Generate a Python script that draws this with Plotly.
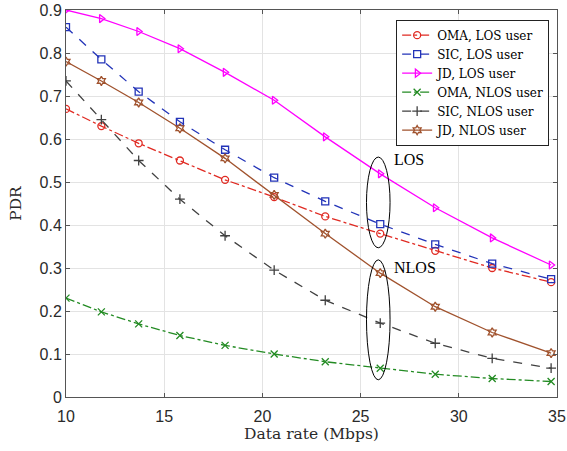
import plotly.graph_objects as go

# Data rate (Mbps) and packet delivery ratio per scheme
rate = [10, 11.8, 13.7, 15.8, 18.1, 20.6, 23.2, 26.0, 28.8, 31.7, 34.7]

oma_los = [0.67, 0.63, 0.59, 0.55, 0.505, 0.465, 0.42, 0.38, 0.34, 0.30, 0.267]
sic_los = [0.86, 0.785, 0.71, 0.64, 0.575, 0.51, 0.455, 0.402, 0.355, 0.31, 0.274]
jd_los = [0.90, 0.88, 0.85, 0.81, 0.755, 0.69, 0.605, 0.519, 0.44, 0.37, 0.307]
oma_nlos = [0.23, 0.198, 0.17, 0.143, 0.12, 0.10, 0.082, 0.067, 0.053, 0.043, 0.036]
sic_nlos = [0.735, 0.645, 0.55, 0.46, 0.375, 0.295, 0.225, 0.172, 0.125, 0.09, 0.067]
jd_nlos = [0.78, 0.735, 0.685, 0.625, 0.555, 0.47, 0.38, 0.288, 0.21, 0.15, 0.102]

series = [
    ("OMA, LOS user", oma_los, "#e02a22", "dashdot", "circle-open"),
    ("SIC, LOS user", sic_los, "#2233b8", "dash", "square-open"),
    ("JD, LOS user", jd_los, "#ff00ff", "solid", "triangle-right-open"),
    ("OMA, NLOS user", oma_nlos, "#238b23", "dashdot", "x-thin-open"),
    ("SIC, NLOS user", sic_nlos, "#404040", "dash", "cross-thin-open"),
    ("JD, NLOS user", jd_nlos, "#a0522d", "solid", "hexagram-open"),
]

SERIF = "Liberation Serif, DejaVu Serif, serif"
WIDE_SERIF = "DejaVu Serif, serif"

fig = go.Figure()
for name, vals, color, dash, symbol in series:
    fig.add_trace(go.Scatter(
        x=rate, y=vals, name=name, mode="lines+markers",
        line=dict(color=color, width=1.3, dash=dash),
        marker=dict(symbol=symbol, size=7, color=color,
                    line=dict(color=color, width=1.3)),
    ))

# Ellipses grouping the LOS and NLOS curves at ~26 Mbps
fig.add_shape(type="circle", xref="x", yref="y", x0=25.3, x1=26.5,
              y0=0.347, y1=0.558, line=dict(color="black", width=1))
fig.add_shape(type="circle", xref="x", yref="y", x0=25.3, x1=26.5,
              y0=0.04, y1=0.319, line=dict(color="black", width=1))
fig.add_annotation(x=26.6, y=0.553, text="LOS", showarrow=False,
                   xanchor="left", font=dict(family=SERIF, size=16, color="black"))
fig.add_annotation(x=26.6, y=0.302, text="NLOS", showarrow=False,
                   xanchor="left", font=dict(family=SERIF, size=16, color="black"))

axis_common = dict(
    showgrid=True, gridcolor="#e3e3e3", gridwidth=1,
    showline=True, linecolor="#555555", linewidth=1, mirror="ticks",
    ticks="inside", ticklen=4, tickcolor="#555555",
    tickfont=dict(family="Liberation Sans", size=16, color="#2a2a2a"),
    zeroline=False, automargin=False,
)

fig.update_layout(
    width=567, height=451,
    margin=dict(l=66, r=10, t=10, b=54),
    paper_bgcolor="white", plot_bgcolor="white",
    xaxis=dict(range=[10, 35], dtick=5, ticklabelstandoff=5,
               title=dict(text="Data rate (Mbps)", standoff=3,
                          font=dict(family=WIDE_SERIF, size=15.5, color="#2a2a2a")),
               **axis_common),
    yaxis=dict(range=[0, 0.9], dtick=0.1,
               title=dict(text="PDR", standoff=14,
                          font=dict(family=WIDE_SERIF, size=15.5, color="#2a2a2a")),
               **axis_common),
    legend=dict(x=0.984, y=0.975, xanchor="right", yanchor="top",
                bgcolor="white", bordercolor="#222222", borderwidth=1,
                font=dict(family=WIDE_SERIF, size=12, color="black"),
                tracegroupgap=0, itemwidth=30),
    showlegend=True,
)

fig.write_html("out.html")
